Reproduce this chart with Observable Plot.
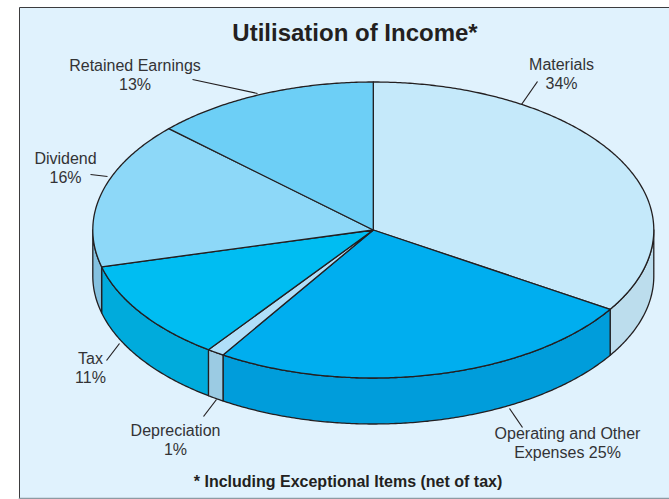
<!DOCTYPE html>
<html>
<head>
<meta charset="utf-8">
<style>
  html, body { margin: 0; padding: 0; background: #ffffff; }
  svg { display: block; }
</style>
<script src="https://cdn.jsdelivr.net/npm/d3@7"></script>
<script src="https://cdn.jsdelivr.net/npm/@observablehq/plot@0.6"></script>
</head>
<body>
<script>
// Shares of income, clockwise from twelve o'clock.
const categories = ["Materials", "Operating and Other\nExpenses", "Depreciation", "Tax", "Dividend", "Retained Earnings"];
const shares = [34, 25, 1, 11, 16, 13];
const titleText = "Utilisation of Income*";
const footnote = "* Including Exceptional Items (net of tax)";

// Face and rim colours per slice.
const topColors = ["#c5e9fa", "#00aeef", "#b0dff9", "#00bdf2", "#8dd8f8", "#6dcff6"];
const rimColors = ["#bcdded", "#009ddb", "#9bcbe3", "#00abdc", "#84c1e0", "#6dcff6"];

// Tilted disc geometry, in the plot's own units.
const disc = {cx: 372.8, cy: 229.5, rx: 280.5, ry: 148, depth: 46};
const ink = "#231f20";

// Where each slice's label sits and where its leader line runs.
const labelAt = [[561, 73], [567, 442], [175, 439], [90, 367], [65, 167], [134.5, 74]];
const leaders = [
  [[537, 81], [521, 104]],
  [[522, 427], [509, 408]],
  [[203, 416], [216, 399]],
  [[106, 360], [119, 343]],
  [[90, 174], [107, 176]],
  [[192, 79], [257, 93]]
];

const rimPoint = (turn, drop = 0) => ({
  x: disc.cx + disc.rx * Math.sin(turn * 2 * Math.PI),
  y: disc.cy - disc.ry * Math.cos(turn * 2 * Math.PI) + drop
});

// Samples the rim between two fractions of a full turn.
function arc(from, to, drop = 0) {
  const steps = Math.max(2, Math.ceil(Math.abs(to - from) * 720));
  return d3.range(steps + 1).map((i) => rimPoint(from + (to - from) * i / steps, drop));
}

const ends = d3.cumsum(shares).map((v) => v / d3.sum(shares));
const slices = categories.map((name, i) => ({
  name,
  value: shares[i],
  from: i ? ends[i - 1] : 0,
  to: ends[i],
  top: topColors[i],
  rim: rimColors[i]
}));

const outline = {stroke: ink, strokeWidth: 1.3, strokeLinejoin: "round", curve: "linear"};

// The rim band only shows along the front half of the disc.
const rimMarks = slices
  .filter((s) => s.to > 0.25 && s.from < 0.75)
  .map((s) => {
    const a = Math.max(s.from, 0.25), b = Math.min(s.to, 0.75);
    const band = [...arc(a, b), ...arc(b, a, disc.depth)];
    return Plot.line([...band, band[0]], {x: "x", y: "y", fill: s.rim, ...outline});
  });

const topMarks = slices.map((s) => {
  const centre = {x: disc.cx, y: disc.cy};
  return Plot.line([centre, ...arc(s.from, s.to), centre], {x: "x", y: "y", fill: s.top, ...outline});
});

const labels = slices.map((s, i) => ({
  text: s.name + (s.name.includes("\n") ? " " : "\n") + s.value + "%",
  x: labelAt[i][0],
  y: labelAt[i][1]
}));

const leaderRows = leaders.map(([a, b]) => ({x1: a[0], y1: a[1], x2: b[0], y2: b[1]}));

const chart = Plot.plot({
  width: 669,
  height: 499,
  margin: 0,
  x: {domain: [0, 669], range: [0, 669], axis: null},
  y: {domain: [0, 499], range: [0, 499], axis: null},
  style: {background: "#ffffff", fontFamily: "'Liberation Sans', Arial, sans-serif"},
  marks: [
    // Panel behind the chart, open on its right side.
    Plot.rect([{x1: 19, x2: 669, y1: 7, y2: 498}], {x1: "x1", x2: "x2", y1: "y1", y2: "y2", fill: "#e0f2fd"}),
    Plot.line([{x: 669, y: 7}, {x: 19, y: 7}, {x: 19, y: 498}], {x: "x", y: "y", stroke: "#3c3c3e", strokeWidth: 1}),
    Plot.line([{x: 19, y: 498}, {x: 669, y: 498}], {x: "x", y: "y", stroke: "#8d9aa3", strokeWidth: 1.6}),
    ...rimMarks,
    ...topMarks,
    Plot.link(leaderRows, {x1: "x1", y1: "y1", x2: "x2", y2: "y2", stroke: ink, strokeWidth: 1.2}),
    Plot.text(labels, {x: "x", y: "y", text: "text", fontSize: 16, lineHeight: 1.19, fill: "#333335", textAnchor: "middle"}),
    Plot.text([titleText], {x: () => 354.5, y: () => 33, text: (d) => d, fontSize: 24, fontWeight: "bold", fill: ink, textAnchor: "middle"}),
    Plot.text([footnote], {x: () => 347.5, y: () => 481, text: (d) => d, fontSize: 16, fontWeight: "bold", fill: ink, textAnchor: "middle"})
  ]
});
document.body.appendChild(chart);
</script>
</body>
</html>
